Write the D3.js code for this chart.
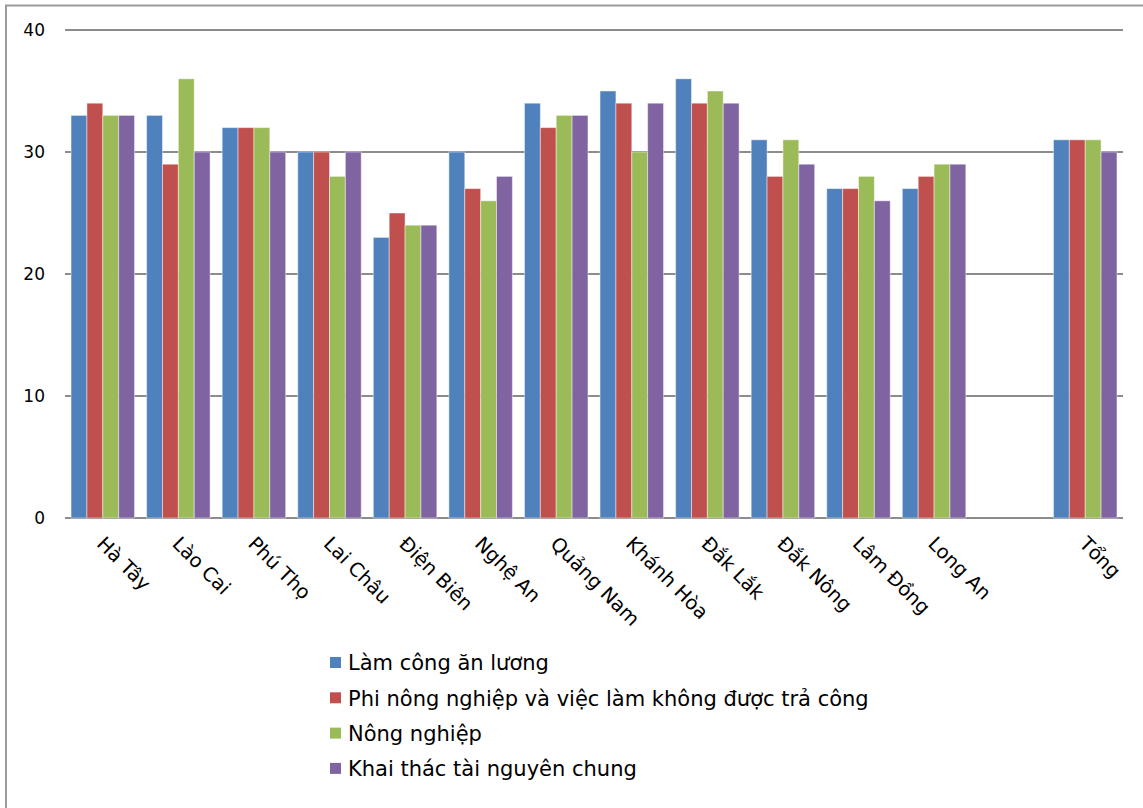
<!DOCTYPE html>
<html><head><meta charset="utf-8">
<script src="https://cdn.jsdelivr.net/npm/d3@7"></script>
<style>body{margin:0;background:#fff}svg{display:block}</style>
</head><body>
<script>
const categories = ["Hà Tây","Lào Cai","Phú Thọ","Lai Châu","Điện Biên","Nghệ An","Quảng Nam","Khánh Hòa","Đắk Lắk","Đắk Nông","Lâm Đồng","Long An","","Tổng"];
const seriesNames = ["Làm công ăn lương","Phi nông nghiệp và việc làm không được trả công","Nông nghiệp","Khai thác tài nguyên chung"];
const lamCong   = [33,33,32,30,23,30,34,35,36,31,27,27,null,31];
const phiNong   = [34,29,32,30,25,27,32,34,34,28,27,28,null,31];
const nongNghiep= [33,36,32,28,24,26,33,30,35,31,28,29,null,31];
const khaiThac  = [33,30,30,30,24,28,33,34,34,29,26,29,null,30];
const yTicks = [0,10,20,30,40];
const colors = ["#4F81BD","#C0504D","#9BBB59","#8064A2"];
const series = [lamCong, phiNong, nongNghiep, khaiThac];

const W=1143,H=808;
const FONT="DejaVu Sans, Verdana, sans-serif";
const svg=d3.select("body").append("svg").attr("width",W).attr("height",H);
svg.append("path").attr("d",`M6,${H} V5.5 H${W}`).attr("fill","none").attr("stroke","#999").attr("stroke-width",2);

const x0=d3.scaleBand().domain(d3.range(categories.length)).range([65,1123]).paddingInner(0.16).paddingOuter(0.08);
const x1=d3.scaleBand().domain(d3.range(4)).range([0,x0.bandwidth()]);
const y=d3.scaleLinear().domain([0,40]).range([518,30]);

const g=svg.append("g");
g.selectAll("line.grid").data(yTicks).join("line")
 .attr("x1",65).attr("x2",1123).attr("y1",d=>y(d)).attr("y2",d=>y(d))
 .attr("stroke","#8c8c8c").attr("stroke-width",2);

const yAxis=d3.axisLeft(y).tickValues(yTicks).tickSize(0).tickPadding(0);
const ya=svg.append("g").attr("transform","translate(45,0)").call(yAxis);
ya.select(".domain").remove();
ya.selectAll("text").attr("font-family",FONT).attr("font-size",17).attr("fill","#000");

series.forEach((s,si)=>{
  g.selectAll(null).data(s.map((v,i)=>({v,i})).filter(d=>d.v!=null)).join("rect")
   .attr("x",d=>x0(d.i)+x1(si)).attr("width",x1.bandwidth())
   .attr("y",d=>y(d.v)).attr("height",d=>y(0)-y(d.v))
   .attr("fill",colors[si]).attr("stroke","rgba(255,255,255,0.45)").attr("stroke-width",1);
});

const xAxis=d3.axisBottom(x0).tickFormat(i=>categories[i]).tickSize(0).tickPadding(0);
const xa=svg.append("g").attr("transform","translate(0,518)").call(xAxis);
xa.select(".domain").remove();
xa.selectAll("text").attr("font-family",FONT).attr("font-size",19.5).attr("fill","#000")
  .attr("text-anchor","start").attr("dy",0).attr("y",0)
  .attr("transform","translate(-7,27) rotate(45)");

const leg=svg.append("g");
seriesNames.forEach((n,i)=>{
  const yy=663+i*35.3;
  leg.append("rect").attr("x",330).attr("y",yy-6).attr("width",11).attr("height",11).attr("fill",colors[i]);
  leg.append("text").attr("x",348).attr("y",yy).attr("dy","0.35em").text(n)
    .attr("font-family",FONT).attr("font-size",21).attr("fill","#000");
});
</script>
</body></html>
